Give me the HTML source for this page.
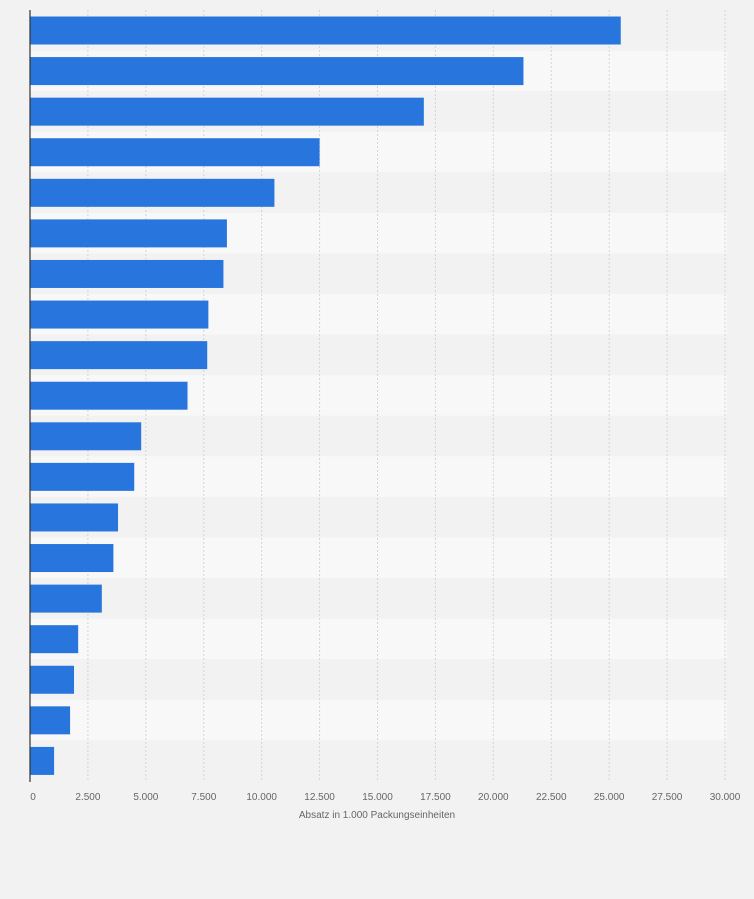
<!DOCTYPE html>
<html><head><meta charset="utf-8"><style>
body{margin:0;background:#f2f2f2;}
svg{display:block;font-family:"Liberation Sans",sans-serif;}
</style></head><body>
<svg id="c" width="754" height="899"></svg>
<script>
const values=[25500,21300,17000,12500,10550,8500,8350,7700,7650,6800,4800,4500,3800,3600,3100,2080,1900,1730,1040];
const ticks=[0,2500,5000,7500,10000,12500,15000,17500,20000,22500,25000,27500,30000];
const tickLabels=["0","2.500","5.000","7.500","10.000","12.500","15.000","17.500","20.000","22.500","25.000","27.500","30.000"];
const axisTitle="Absatz in 1.000 Packungseinheiten";
const svg=document.getElementById('c');const NS='http://www.w3.org/2000/svg';
const L=30,R=725,T=10,B=781,max=30000;
const x=v=>L+v/max*(R-L);
const rh=(B-T)/values.length;
function mk(t,a,p){const e=document.createElementNS(NS,t);for(const k in a)e.setAttribute(k,a[k]);(p||svg).appendChild(e);return e;}
values.forEach((v,i)=>{const r=mk('rect',{x:L,y:T+i*rh,width:R-L+2,height:rh,fill:i%2?'#f8f8f8':'#f2f2f2'});

});
ticks.forEach((t,i)=>{if(i>0){const g=mk('line',{x1:x(t),x2:x(t),y1:T,y2:B,stroke:'#d4d4d4','stroke-dasharray':'2,2'});

}
const tx=mk('text',{x:x(t)+(i==0?3:0),y:800,'font-size':10,fill:'#666','text-anchor':'middle'});tx.textContent=tickLabels[i];

});
values.forEach((v,i)=>{const b=mk('rect',{x:L,y:T+i*rh+6.5,width:x(v)-L,height:28,fill:'#2876dd'});

});
const ax=mk('line',{x1:L,x2:L,y1:T,y2:B+1,stroke:'#333','stroke-width':1.2});


const at=mk('text',{x:377,y:818,'font-size':10,fill:'#666','text-anchor':'middle'});at.textContent=axisTitle;


</script>
</body></html>
